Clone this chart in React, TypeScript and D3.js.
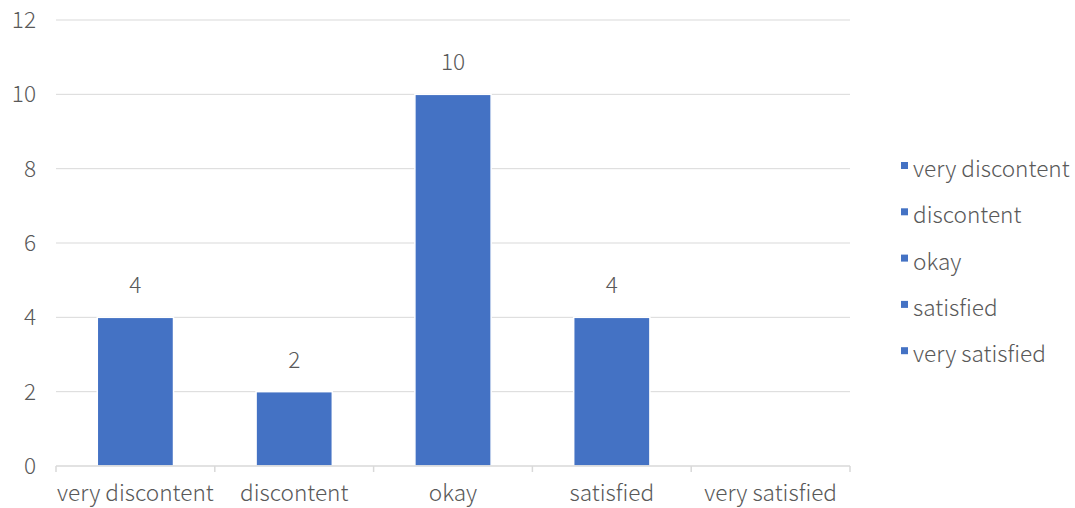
import React from "react";
import * as d3 from "d3";

const categories = ["very discontent", "discontent", "okay", "satisfied", "very satisfied"];
const values = [4, 2, 10, 4, 0];
const yTicks = [0, 2, 4, 6, 8, 10, 12];
const legendItems = ["very discontent", "discontent", "okay", "satisfied", "very satisfied"];

const W = 1075;
const H = 508;
const FONT = "'Noto Sans CJK SC', 'Noto Sans', sans-serif";
const FS = 22.6;
const FW = 300;
const BAR = "#4472C4";
const TEXT = "#595959";
const GRID = "#d9d9d9";

export default function App() {
  const x = d3.scaleBand<string>().domain(categories).range([56, 850]).paddingInner(0).paddingOuter(0);
  const y = d3.scaleLinear().domain([0, 12]).range([466, 20]);
  const bw = x.bandwidth() * 0.48;
  return (
    <svg width={W} height={H} style={{ position: "absolute", left: 0, top: 0, background: "#fff" }} fontFamily={FONT} fontWeight={FW}>
      {yTicks.map((t) => (
        <g key={t}>
          {t > 0 && <line x1={56} x2={850} y1={y(t)} y2={y(t)} stroke={GRID} strokeWidth={1} />}
          <text x={36} y={y(t)} dy="0.35em" textAnchor="end" fontSize={FS} fill={TEXT}>{t}</text>
        </g>
      ))}
      {categories.map((c, i) => {
        const cx = (x(c) as number) + x.bandwidth() / 2;
        const v = values[i];
        return (
          <g key={c}>
            {v > 0 && (
              <rect x={cx - bw / 2} y={y(v)} width={bw} height={y(0) - y(v)} fill={BAR} stroke="#fff" strokeWidth={1.5} />
            )}
            {v > 0 && (
              <text x={cx} y={y(v) - 32} dy="0.35em" textAnchor="middle" fontSize={FS} fill={TEXT}>{v}</text>
            )}
            <text x={cx} y={493} dy="0.35em" textAnchor="middle" fontSize={FS} fill={TEXT}>{c}</text>
          </g>
        );
      })}
      <line x1={56} x2={850} y1={466} y2={466} stroke={GRID} strokeWidth={1.5} />
      {d3.range(categories.length + 1).map((i) => {
        const xx = 56 + i * x.bandwidth();
        return <line key={i} x1={xx} x2={xx} y1={466} y2={472} stroke={GRID} strokeWidth={1.5} />;
      })}
      {legendItems.map((l, i) => (
        <g key={l} transform={`translate(0, ${169 + i * 46.3})`}>
          <rect x={901} y={-7} width={7} height={7} fill={BAR} />
          <text x={913} y={0} dy="0.35em" fontSize={FS} fill={TEXT}>{l}</text>
        </g>
      ))}
    </svg>
  );
}
